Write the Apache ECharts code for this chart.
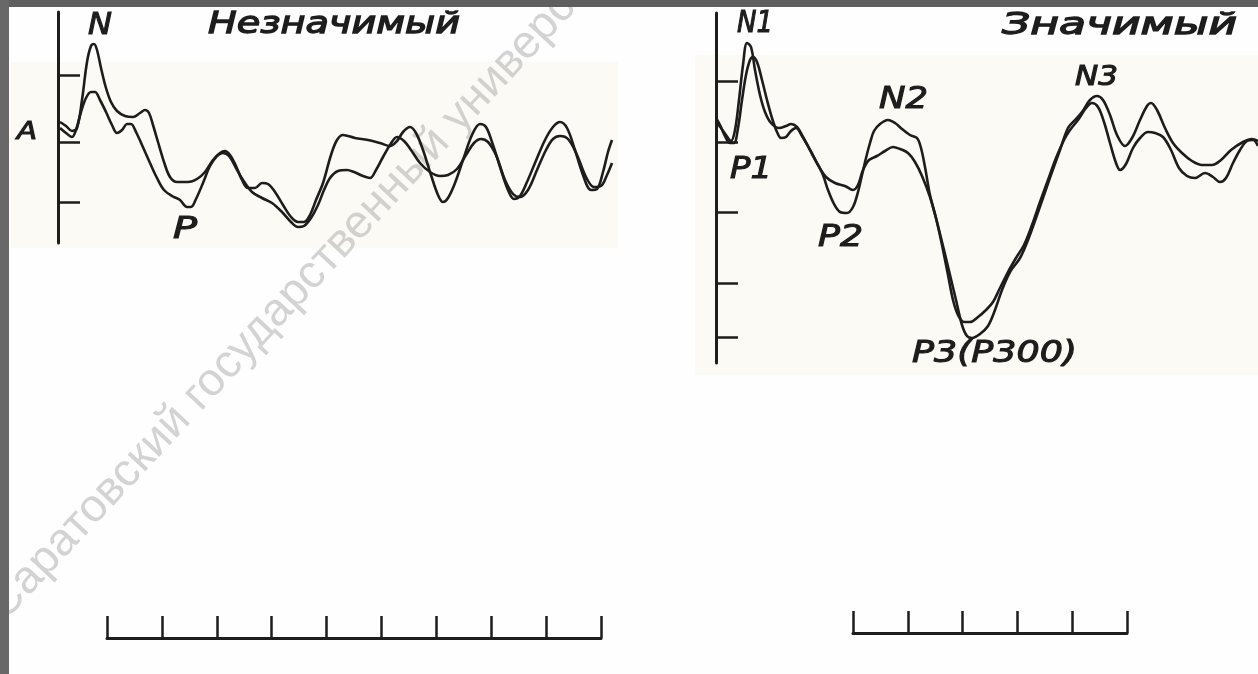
<!DOCTYPE html>
<html><head><meta charset="utf-8">
<script src="https://cdn.jsdelivr.net/npm/echarts@6/dist/echarts.min.js"></script>
<style>html,body{margin:0;padding:0;background:#fefefe;}#chart{width:1258px;height:674px;}</style>
</head><body><div id="chart"></div>
<script>
// ---- DATA (time in ms, amplitude in µV, negative up) ----
const leftTicks = [-6.7, 0, 6.0];
const rightTicks = [-6.1, 0, 7.0, 14.1, 19.5];
const leftCurveA = [[2,-2.0],[8,-1.6],[14,-1.1],[19,-1.4],[24,-4.2],[29,-8.0],[33,-9.6],[36,-9.8],[39,-9.2],[43,-7.4],[48,-5.4],[53,-4.0],[59,-3.1],[67,-2.6],[75,-2.5],[82,-2.9],[87,-3.2],[91,-2.9],[95,-1.7],[100,0],[106,2.0],[112,3.5],[119,4.0],[130,4.0],[139,3.7],[147,3.0],[155,1.8],[162,1.1],[167,0.9],[172,1.3],[178,2.4],[184,3.8],[190,4.6],[197,4.6],[204,4.1],[210,4.2],[217,5.0],[225,6.3],[233,7.5],[240,8.0],[246,8.0],[252,7.3],[258,5.8],[265,4.1],[273,1.3],[279,-0.2],[285,-0.7],[297,-0.4],[310,-0.2],[322,0.1],[332,0.4],[339,-0.1],[345,-1.0],[352,-1.5],[358,-0.9],[365,0.8],[373,3.3],[380,5.3],[385,6.0],[390,5.6],[397,4.1],[405,1.8],[414,-0.7],[422,-1.8],[428,-1.5],[435,0.3],[443,2.8],[450,4.8],[456,5.7],[462,5.4],[469,4.0],[477,2.1],[487,-0.2],[495,-1.5],[502,-2.0],[509,-1.4],[517,0.8],[525,3.3],[533,4.8],[539,4.7],[545,3.0],[550,1.0],[554,-0.2]];
const leftCurveB = [[2,-1.4],[8,-0.9],[14,-0.5],[18,-1.2],[23,-3.0],[28,-4.4],[33,-5.0],[37,-5.0],[42,-4.2],[48,-3.0],[54,-1.7],[59,-0.9],[64,-1.2],[69,-1.8],[73,-1.8],[78,-1.0],[84,0.3],[92,2.1],[99,3.6],[106,4.8],[114,5.4],[122,5.8],[129,6.5],[133,6.5],[138,5.7],[145,4.1],[152,2.4],[159,1.4],[165,1.1],[171,1.4],[178,2.6],[185,3.8],[194,5.0],[204,5.6],[214,6.1],[224,7.0],[233,8.0],[240,8.5],[246,8.4],[253,7.6],[260,6.3],[266,4.8],[272,3.6],[280,2.9],[289,2.8],[296,3.0],[305,3.4],[312,3.6],[318,2.8],[325,1.5],[332,0.3],[339,-0.5],[346,-0.1],[353,0.8],[362,2.1],[372,3.0],[382,3.4],[390,3.3],[399,2.7],[408,1.3],[416,0.1],[423,-0.3],[430,0],[438,1.3],[447,3.8],[455,5.2],[462,5.5],[470,4.8],[479,2.8],[488,0.8],[495,-0.3],[502,-0.6],[510,-0.3],[519,1.3],[528,3.5],[536,4.5],[543,4.4],[549,3.3],[554,2.1]];
const rightCurveC = [[0,-2.0],[5,-1.4],[10,-0.7],[15,-0.1],[19,-1.2],[23,-4.2],[27,-7.7],[31,-9.9],[35,-9.5],[39,-7.2],[44,-4.7],[49,-3.0],[55,-1.9],[63,-1.4],[70,-1.6],[75,-1.8],[81,-1.5],[87,-0.5],[94,0.8],[102,2.3],[110,3.5],[119,4.1],[129,4.4],[137,4.8],[142,4.3],[147,2.8],[153,1.8],[161,1.4],[169,0.9],[177,0.5],[184,0.7],[192,1.1],[199,2.0],[206,3.4],[214,5.5],[221,8.0],[228,10.8],[234,13.3],[240,15.8],[246,18.3],[251,19.4],[256,19.6],[264,19.2],[272,18.4],[279,16.8],[286,14.8],[294,13.0],[304,11.6],[312,9.8],[320,7.6],[328,5.3],[336,3.0],[344,0.8],[352,-1.4],[359,-2.2],[366,-3.0],[374,-4.2],[381,-4.6],[387,-4.2],[394,-2.7],[401,-0.7],[409,0.4],[416,-0.4],[424,-2.2],[431,-3.6],[435,-3.9],[441,-3.2],[449,-1.4],[457,0.1],[466,1.1],[476,1.9],[486,2.3],[496,2.3],[505,1.8],[515,0.8],[527,0],[536,-0.3],[542,-0.1]];
const rightCurveD = [[0,-2.4],[4,-1.7],[9,-0.6],[14,0.1],[18,0.1],[22,-1.4],[26,-4.2],[30,-6.7],[34,-8.2],[37,-8.5],[41,-8.0],[46,-6.2],[51,-4.2],[56,-2.4],[61,-1.0],[65,-0.4],[70,-0.5],[75,-1.1],[80,-1.4],[86,-0.6],[93,0.6],[101,2.1],[107,3.3],[112,4.8],[118,6.2],[124,7.0],[131,7.1],[137,6.5],[142,5.0],[146,3.3],[150,1.6],[154,0.1],[158,-1.1],[164,-1.8],[172,-2.2],[179,-1.9],[186,-1.3],[194,-0.7],[201,-0.4],[205,0.6],[209,2.5],[214,5.3],[220,7.6],[226,10.3],[232,13.3],[237,15.8],[242,17.3],[248,18.0],[254,18.0],[262,17.5],[270,16.8],[277,16.0],[284,14.6],[292,13.0],[300,11.6],[308,10.3],[316,8.3],[324,6.0],[332,3.8],[340,1.6],[348,-0.2],[354,-1.2],[362,-2.2],[370,-3.4],[376,-3.9],[382,-3.5],[388,-2.0],[394,0.1],[400,2.1],[404,2.8],[410,2.2],[417,0.6],[424,-0.4],[432,-1.0],[439,-0.9],[447,-0.5],[455,0.8],[463,2.6],[471,3.4],[479,3.6],[489,3.1],[497,3.5],[504,4.0],[510,3.6],[517,2.1],[524,0.8],[531,-0.1],[537,-0.2],[542,0.4]];
const scaleStep = 55;            // ms per scale-bar division
const leftScaleDivisions = 9;
const rightScaleDivisions = 5;
const panelTitles = ['Незначимый', 'Значимый'];
const leftLabels = ['N', 'A', 'P'];
const rightLabels = ['N1', 'P1', 'N2', 'P2', 'N3', 'P3(P300)'];
const watermark = 'Саратовский государственный университет';

// ---- LAYOUT ----
const INK = '#1d1d1d';
const mctx = document.createElement('canvas').getContext('2d');
function fitScale(text, font, w) { mctx.font = font; return w / mctx.measureText(text).width; }
const F = (s) => 'italic ' + s + 'px "DejaVu Sans"';
function label(text, left, cy, size, width, lw) {
  const font = F(size);
  return { type: 'text', x: left, y: cy, scaleX: fitScale(text, font, width), z: 20,
    style: { text: text, font: font, fill: INK, stroke: INK, lineWidth: lw, align: 'left', verticalAlign: 'middle' } };
}
const textLayout = [
  [panelTitles[0], 208, 25, 30, 252, 1.3],
  [panelTitles[1], 1002, 26, 30, 235, 1.3],
  [leftLabels[0], 88, 26, 30, 24, 1.1],
  [leftLabels[1], 17, 133, 24, 20, 1.1],
  [leftLabels[2], 173, 230, 31, 24, 1.1],
  [rightLabels[0], 737, 24, 30, 36, 1.1],
  [rightLabels[1], 730, 170, 31, 42, 1.1],
  [rightLabels[2], 879, 100, 31, 49, 1.1],
  [rightLabels[3], 818, 238, 31, 45, 1.1],
  [rightLabels[4], 1075, 78, 27, 43, 1.1],
  [rightLabels[5], 912, 354, 31, 165, 1.1]
];

const chart = echarts.init(document.getElementById('chart'), null, { renderer: 'canvas' });
const lineSeries = (data, gi) => ({ type: 'line', data: data, xAxisIndex: gi, yAxisIndex: gi, showSymbol: false, smooth: 0.35, clip: true,
  lineStyle: { color: INK, width: 2.6 }, silent: true, z: 5 });
const vAxis = (gi, min, max, ticks) => ({ gridIndex: gi, type: 'value', min: min, max: max, inverse: true, position: 'left',
  axisLine: { show: true, onZero: false, lineStyle: { color: INK, width: 3 } },
  axisTick: { show: true, inside: true, length: 22, customValues: ticks, lineStyle: { color: INK, width: 2.5 } },
  axisLabel: { show: false }, splitLine: { show: false } });
const hidden = (gi, min, max) => ({ gridIndex: gi, type: 'value', min: min, max: max, show: false });
const scaleAxis = (gi, div) => ({ gridIndex: gi, type: 'value', min: 0, max: div * scaleStep, interval: scaleStep, position: 'bottom',
  axisLine: { show: true, onZero: false, lineStyle: { color: INK, width: 3 } },
  axisTick: { show: true, inside: true, length: 22, lineStyle: { color: INK, width: 2.5 } },
  axisLabel: { show: false }, splitLine: { show: false } });

chart.setOption({
  animation: false,
  backgroundColor: '#fefefe',
  grid: [
    { left: 58, top: 12, width: 557, height: 231 },
    { left: 716, top: 13, width: 542, height: 350 },
    { left: 107, top: 615, width: 494, height: 23 },
    { left: 853, top: 611, width: 274, height: 22 }
  ],
  xAxis: [hidden(0, 0, 557), hidden(1, 0, 542), scaleAxis(2, leftScaleDivisions), scaleAxis(3, rightScaleDivisions)],
  yAxis: [vAxis(0, -13.0, 10.1, leftTicks), vAxis(1, -12.9, 22.1, rightTicks), hidden(2, 0, 1), hidden(3, 0, 1)],
  series: [lineSeries(leftCurveA, 0), lineSeries(leftCurveB, 0), lineSeries(rightCurveC, 1), lineSeries(rightCurveD, 1)],
  graphic: { elements: [
    { type: 'rect', shape: { x: 10, y: 62, width: 608, height: 186 }, style: { fill: '#fcfaf5' }, z: -10, silent: true },
    { type: 'rect', shape: { x: 695, y: 55, width: 563, height: 320 }, style: { fill: '#fcfaf5' }, z: -10, silent: true },
    { type: 'text', x: 313, y: 273, rotation: 0.82, z: 1, silent: true,
      style: { text: watermark, font: '46px "Liberation Sans"', fill: 'rgba(160,160,160,0.45)', align: 'center', verticalAlign: 'middle' } },
    ...textLayout.map(t => label(t[0], t[1], t[2], t[3], t[4], t[5])),
    { type: 'rect', shape: { x: 0, y: 0, width: 1258, height: 7 }, style: { fill: '#5f5f5f' }, z: 50, silent: true },
    { type: 'rect', shape: { x: 0, y: 0, width: 9, height: 674 }, style: { fill: '#686868' }, z: 50, silent: true }
  ] }
});
</script></body></html>
